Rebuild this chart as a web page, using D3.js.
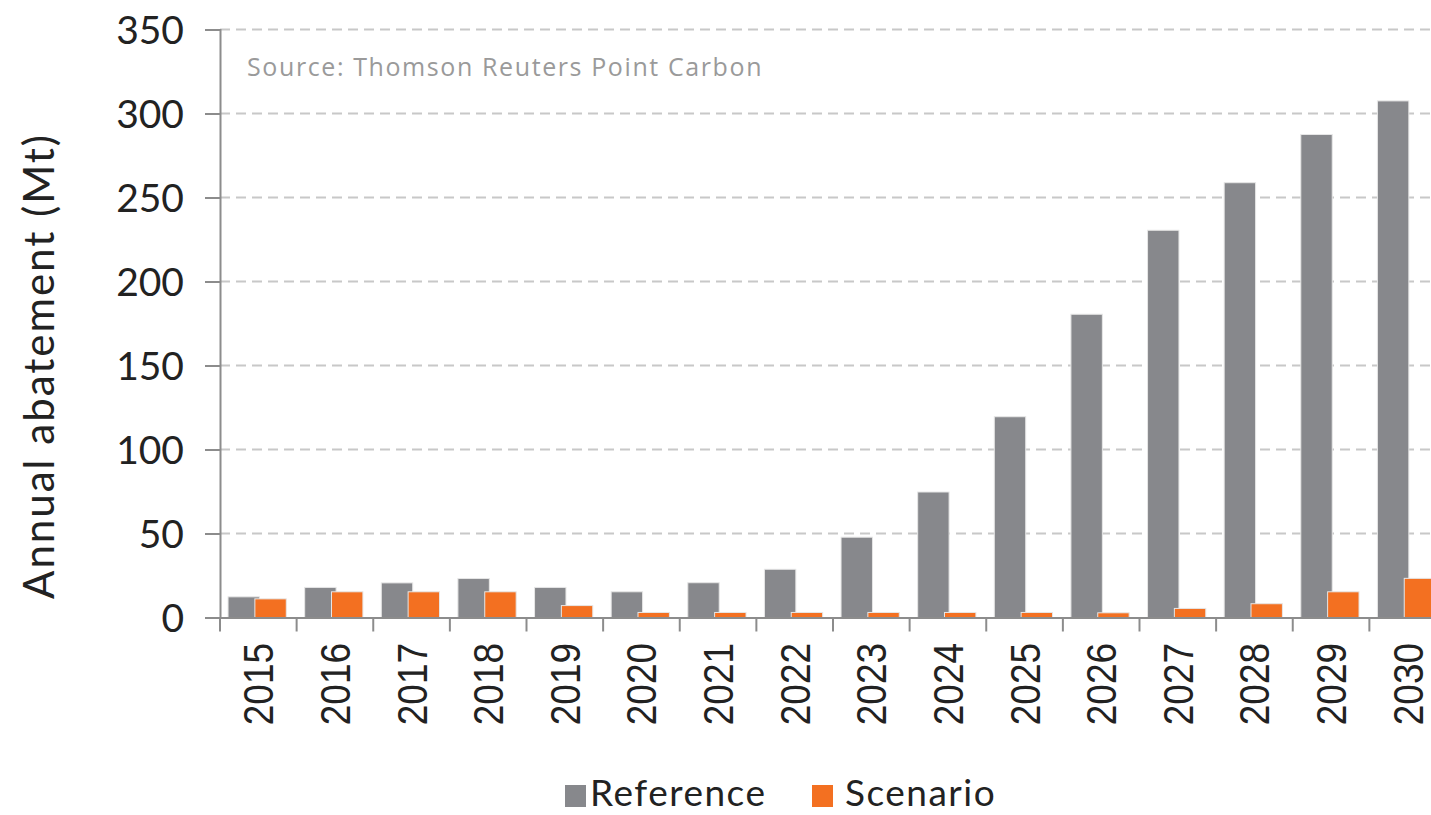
<!DOCTYPE html>
<html>
<head>
<meta charset="utf-8">
<script src="https://cdn.jsdelivr.net/npm/d3@7"></script>
<style>
  body { margin: 0; background: #fff; }
  svg { display: block; }
</style>
</head>
<body>
<div id="chart"></div>
<script>
const years = ["2015","2016","2017","2018","2019","2020","2021","2022","2023","2024","2025","2026","2027","2028","2029","2030"];
const referenceValues = [12.3, 17.9, 20.6, 23.2, 17.9, 15.3, 20.7, 28.7, 47.8, 74.7, 119.5, 180.5, 230.5, 258.8, 287.5, 307.5];
const scenarioValues = [11.1, 15.3, 15.3, 15.3, 7.1, 3.0, 3.0, 3.0, 3.0, 3.0, 3.0, 2.8, 5.4, 8.2, 15.3, 23.3];
const yTicks = [0, 50, 100, 150, 200, 250, 300, 350];
const seriesNames = ["Reference", "Scenario"];
const seriesColors = ["#87888c", "#f37021"];

const width = 1431, height = 815;
const plotLeft = 220, plotRight = 1446, plotTop = 29.5, plotBottom = 617.5;

const svg = d3.select("#chart").append("svg")
  .attr("width", width)
  .attr("height", height);

const xScale = d3.scaleBand().domain(years).range([plotLeft, plotRight]).padding(0);
const yScale = d3.scaleLinear().domain([0, 350]).range([plotBottom, plotTop]);

// dashed gridlines
svg.append("g")
  .selectAll("line")
  .data(yTicks.filter(t => t > 0))
  .enter()
  .append("line")
  .attr("x1", plotLeft)
  .attr("x2", plotRight)
  .attr("y1", d => yScale(d))
  .attr("y2", d => yScale(d))
  .style("stroke", "#c8c8c8")
  .style("stroke-width", 2)
  .style("stroke-dasharray", "10,6");

// source note
svg.append("text")
  .attr("x", 247)
  .attr("y", 76)
  .style("font-family", "'Open Sans', sans-serif")
  .style("font-size", "25px")
  .style("fill", "#9a9a9a")
  .style("letter-spacing", "1.6px")
  .text("Source: Thomson Reuters Point Carbon");

// bars
const bw = xScale.bandwidth();
const barW = bw * 0.41;
const offsets = [bw * 0.105, bw * 0.455];
const allSeries = [referenceValues, scenarioValues];

allSeries.forEach((vals, si) => {
  svg.append("g")
    .selectAll("rect")
    .data(vals)
    .enter()
    .append("rect")
    .attr("x", (d, i) => xScale(years[i]) + offsets[si])
    .attr("width", barW)
    .attr("y", d => yScale(d))
    .attr("height", d => yScale(0) - yScale(d))
    .style("fill", seriesColors[si])
    .style("stroke", "#e6e6e6")
    .style("stroke-width", 1);
});

// left axis
const yAxis = svg.append("g")
  .attr("transform", `translate(${plotLeft},0)`)
  .call(d3.axisLeft(yScale).tickValues(yTicks).tickSize(15).tickPadding(21));
yAxis.select(".domain").style("stroke", "#8c8c8c").style("stroke-width", 2);
yAxis.selectAll(".tick line").style("stroke", "#8c8c8c").style("stroke-width", 2);
yAxis.selectAll(".tick text")
  .style("font-family", "Lato, sans-serif")
  .style("font-size", "39px")
  .style("fill", "#222")
  .attr("dy", "0.36em");

// bottom axis
const xAxis = svg.append("g")
  .attr("transform", `translate(0,${plotBottom})`)
  .call(d3.axisBottom(xScale).tickSize(0).tickFormat(""));
xAxis.select(".domain").style("stroke", "#8c8c8c").style("stroke-width", 2);

// category separators
svg.append("g")
  .selectAll("line")
  .data(years)
  .enter()
  .append("line")
  .attr("x1", d => xScale(d))
  .attr("x2", d => xScale(d))
  .attr("y1", plotBottom)
  .attr("y2", plotBottom + 14)
  .style("stroke", "#8c8c8c")
  .style("stroke-width", 2);

// year labels
svg.append("g")
  .selectAll("text")
  .data(years)
  .enter()
  .append("text")
  .attr("transform", d => `translate(${xScale(d) + bw / 2 + 15},643)rotate(-90)scale(0.88,1)`)
  .attr("text-anchor", "end")
  .style("font-family", "'Liberation Sans', Arial, sans-serif")
  .style("font-size", "42px")
  .style("fill", "#222")
  .text(d => d);

// y label
svg.append("text")
  .attr("text-anchor", "middle")
  .attr("transform", "translate(54,366)rotate(-90)")
  .style("font-family", "Lato, sans-serif")
  .style("font-size", "42px")
  .style("letter-spacing", "2px")
  .style("fill", "#222")
  .text("Annual abatement (Mt)");

// legend
const legendX = [565, 812];
seriesNames.forEach((name, i) => {
  svg.append("rect")
    .attr("x", legendX[i])
    .attr("y", 785)
    .attr("width", 21)
    .attr("height", 22)
    .style("fill", seriesColors[i]);
  svg.append("text")
    .attr("x", legendX[i] + (i === 0 ? 25 : 33))
    .attr("y", 806)
    .style("font-family", "Lato, sans-serif")
    .style("font-size", "37px")
    .style("letter-spacing", "1.5px")
    .style("fill", "#222")
    .text(name);
});
</script>
</body>
</html>
